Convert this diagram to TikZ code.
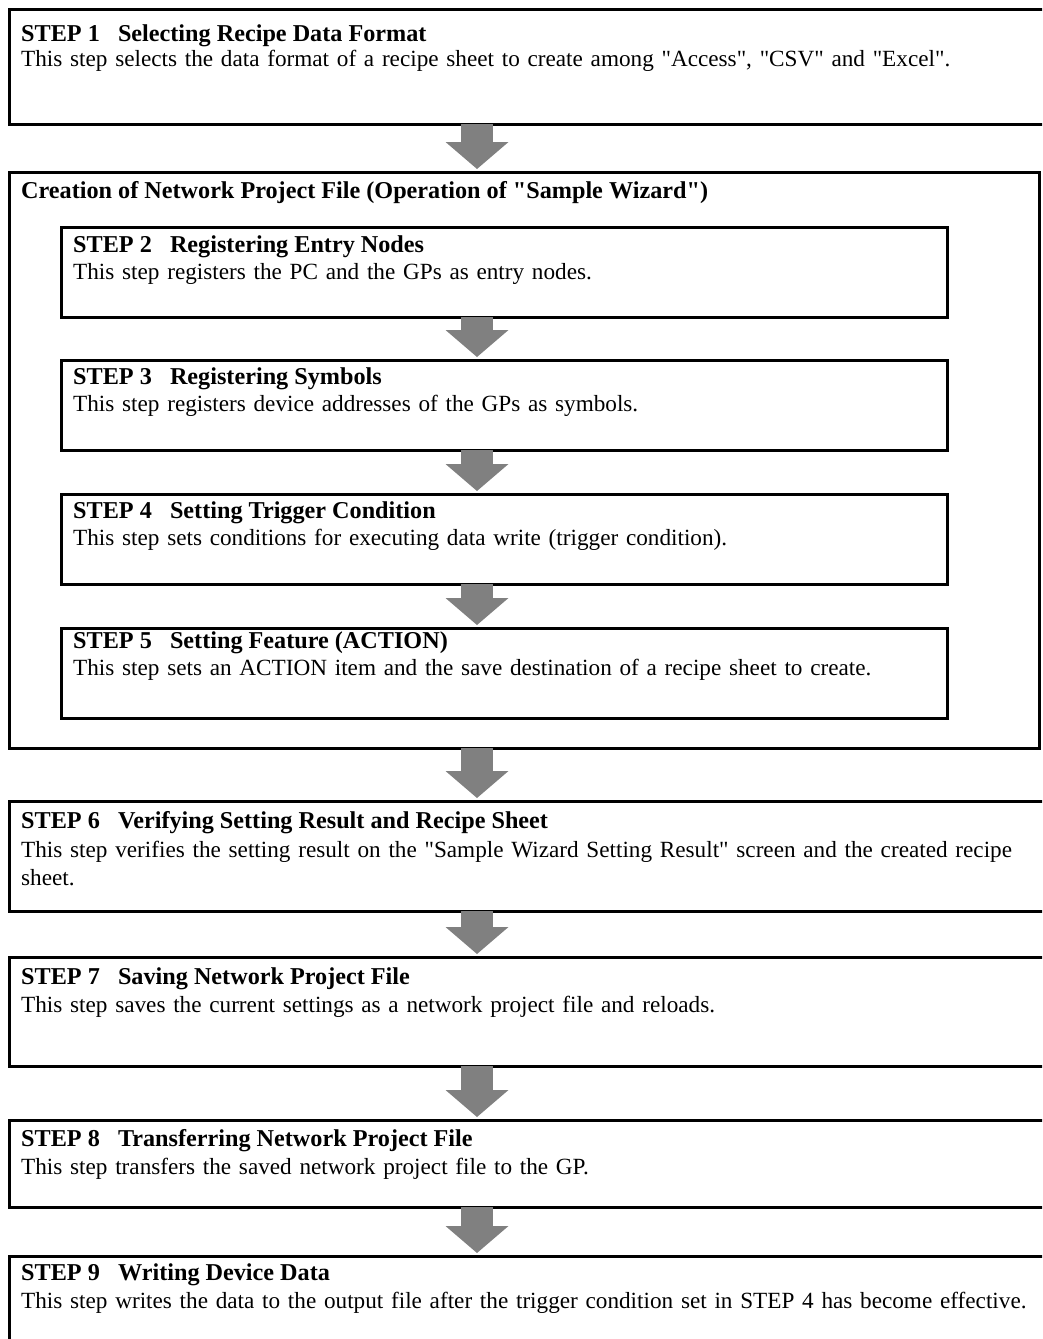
\documentclass[tikz,border=0pt]{standalone}
\usepackage{fontspec}
\setmainfont{Liberation Serif}
\usetikzlibrary{arrows.meta,positioning,calc}
\definecolor{flowgray}{RGB}{128,128,128}
% straight double quote, bypassing the TeX ligature mapping
\newcommand{\dq}{\XeTeXglyph\XeTeXcharglyph"22\relax}

\begin{document}
\begin{tikzpicture}[
  x=1pt, y=-1pt,
  font=\fontsize{23.2}{28}\selectfont,
  box/.style={draw, line width=3pt, anchor=north west, inner sep=0pt, outer sep=0pt},
  fullbox/.style={box, minimum width=1060pt},
  innerbox/.style={box, minimum width=886pt},
  ttl/.style={anchor=base west, inner sep=0pt, font=\fontsize{24.2}{28}\selectfont\bfseries},
  txt/.style={anchor=base west, inner sep=0pt, align=left, text width=1015pt},
  flow/.style={draw=flowgray, line width=32pt, shorten >=3pt,
    -{Triangle[length=27pt, width=63pt, line width=0pt, fill=flowgray]}}
]
\useasboundingbox (0,0) rectangle (1042,1339);
\clip (0,0) rectangle (1042,1339);
\coordinate (ax) at (477,0);

% STEP 1
\node[fullbox, minimum height=115pt] (s1) at (9,9) {};
\node[ttl] (t1) at ($(s1.north west)+(12,32)$) {STEP 1\hspace{0.75em}Selecting Recipe Data Format};
\node[txt] (b1) at ($(t1.base west)+(0,25)$) {This step selects the data format of a recipe sheet to create among \dq Access\dq, \dq CSV\dq{} and \dq Excel\dq.};

% sample wizard block
\node[box, minimum width=1030pt, minimum height=576pt] (wiz) at (9,172) {};
\node[ttl] (wt) at ($(wiz.north west)+(12,26)$) {Creation of Network Project File (Operation of \dq Sample Wizard\dq)};

\node[innerbox, minimum height=90pt] (s2) at (61,227) {};
\node[ttl] (t2) at ($(s2.north west)+(12,25)$) {STEP 2\hspace{0.75em}Registering Entry Nodes};
\node[txt] (b2) at ($(t2.base west)+(0,27)$) {This step registers the PC and the GPs as entry nodes.};

\node[innerbox, minimum height=90pt] (s3) at (61,360) {};
\node[ttl] (t3) at ($(s3.north west)+(12,24)$) {STEP 3\hspace{0.75em}Registering Symbols};
\node[txt] (b3) at ($(t3.base west)+(0,27)$) {This step registers device addresses of the GPs as symbols.};

\node[innerbox, minimum height=90pt] (s4) at (61,494) {};
\node[ttl] (t4) at ($(s4.north west)+(12,24)$) {STEP 4\hspace{0.75em}Setting Trigger Condition};
\node[txt] (b4) at ($(t4.base west)+(0,27)$) {This step sets conditions for executing data write (trigger condition).};

\node[innerbox, minimum height=90pt] (s5) at (61,628) {};
\node[ttl] (t5) at ($(s5.north west)+(12,20)$) {STEP 5\hspace{0.75em}Setting Feature (ACTION)};
\node[txt] (b5) at ($(t5.base west)+(0,27)$) {This step sets an ACTION item and the save destination of a recipe sheet to create.};

% STEP 6 - 9
\node[fullbox, minimum height=110pt] (s6) at (9,801) {};
\node[ttl] (t6) at ($(s6.north west)+(12,27)$) {STEP 6\hspace{0.75em}Verifying Setting Result and Recipe Sheet};
\node[txt] (b6) at ($(t6.base west)+(0,29)$) {This step verifies the setting result on the \dq Sample Wizard Setting Result\dq{} screen and the created recipe\\sheet.};

\node[fullbox, minimum height=109pt] (s7) at (9,957) {};
\node[ttl] (t7) at ($(s7.north west)+(12,27)$) {STEP 7\hspace{0.75em}Saving Network Project File};
\node[txt] (b7) at ($(t7.base west)+(0,28)$) {This step saves the current settings as a network project file and reloads.};

\node[fullbox, minimum height=87pt] (s8) at (9,1120) {};
\node[ttl] (t8) at ($(s8.north west)+(12,26)$) {STEP 8\hspace{0.75em}Transferring Network Project File};
\node[txt] (b8) at ($(t8.base west)+(0,28)$) {This step transfers the saved network project file to the GP.};

\node[fullbox, minimum height=110pt] (s9) at (9,1256) {};
\node[ttl] (t9) at ($(s9.north west)+(12,24)$) {STEP 9\hspace{0.75em}Writing Device Data};
\node[txt] (b9) at ($(t9.base west)+(0,28)$) {This step writes the data to the output file after the trigger condition set in STEP 4 has become effective.};

% arrows
\draw[flow] (ax |- s1.south) -- (ax |- wiz.north);
\draw[flow] (ax |- s2.south) -- (ax |- s3.north);
\draw[flow] (ax |- s3.south) -- (ax |- s4.north);
\draw[flow] (ax |- s4.south) -- (ax |- s5.north);
\draw[flow] (ax |- wiz.south) -- (ax |- s6.north);
\draw[flow] (ax |- s6.south) -- (ax |- s7.north);
\draw[flow] (ax |- s7.south) -- (ax |- s8.north);
\draw[flow] (ax |- s8.south) -- (ax |- s9.north);
\end{tikzpicture}
\end{document}
